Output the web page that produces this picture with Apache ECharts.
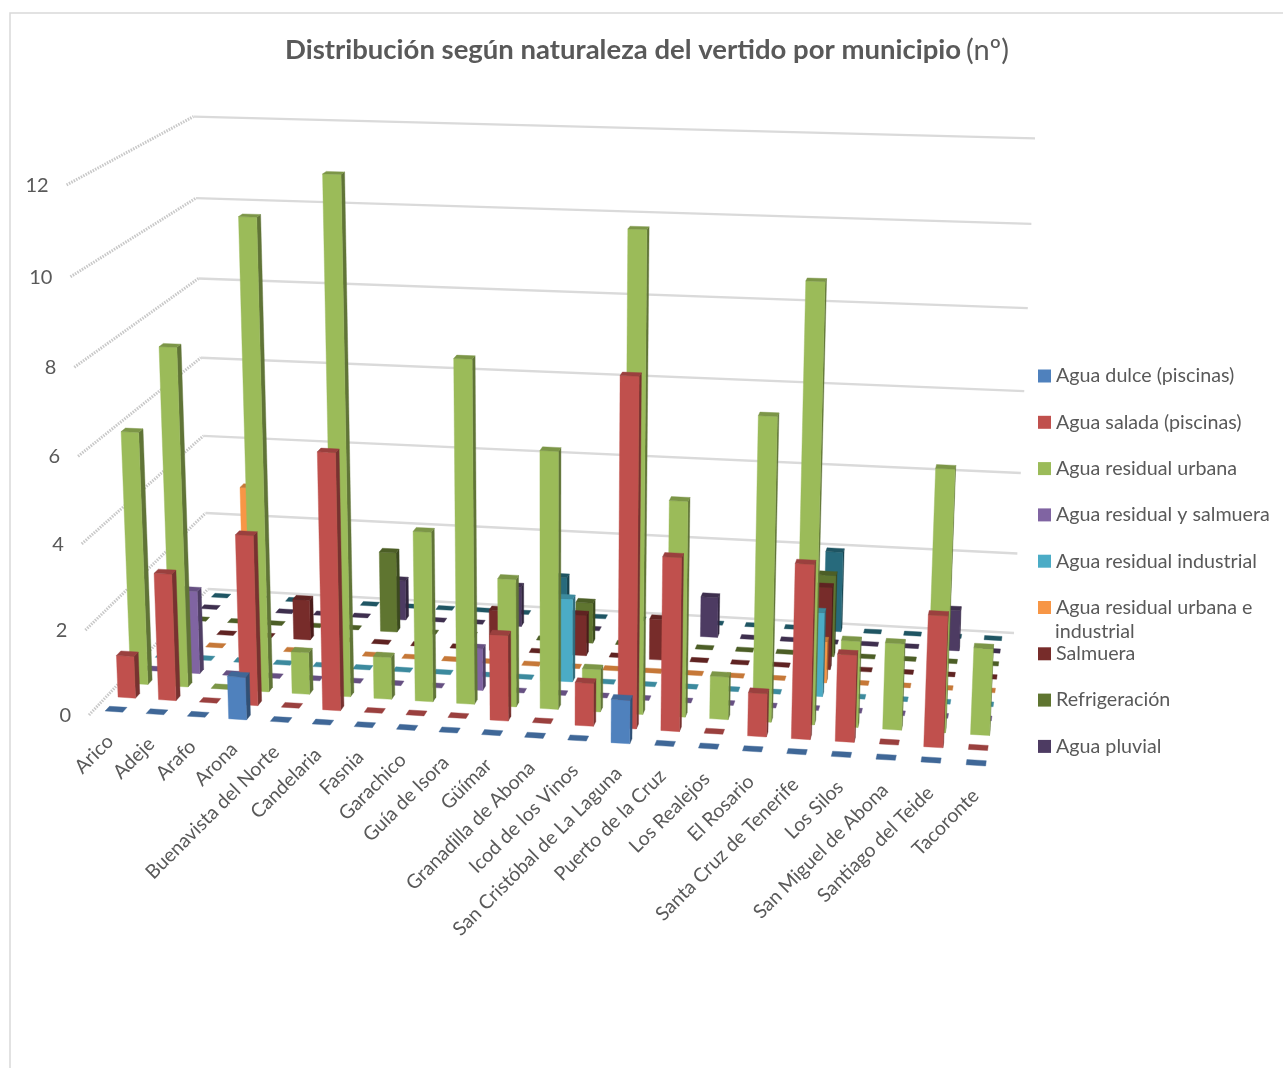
<!DOCTYPE html>
<html><head><meta charset="utf-8">
<style>html,body{margin:0;padding:0;background:#fff}#c{width:1283px;height:1068px}</style>
<script src="https://cdn.jsdelivr.net/npm/echarts@6/dist/echarts.min.js"></script>
</head><body><div id="c"></div>
<script>
const categories=['Arico','Adeje','Arafo','Arona','Buenavista del Norte','Candelaria','Fasnia','Garachico','Guía de Isora','Güímar','Granadilla de Abona','Icod de los Vinos','San Cristóbal de La Laguna','Puerto de la Cruz','Los Realejos','El Rosario','Santa Cruz de Tenerife','Los Silos','San Miguel de Abona','Santiago del Teide','Tacoronte'];
const yTicks=[0,2,4,6,8,10,12];
const aguaDulce     =[0,0,0,1,0,0,0,0,0,0,0,0,1,0,0,0,0,0,0,0,0];
const aguaSalada    =[1,3,0,4,0,6,0,0,0,2,0,1,8,4,0,1,4,2,0,3,0];
const residualUrbana=[6,8,0,11,1,12,1,4,8,3,6,1,11,5,1,7,10,2,2,6,2];
const residualSalm  =[0,2,0,0,0,0,0,0,1,0,0,0,0,0,0,0,0,0,0,0,0];
const industrial    =[0,0,0,0,0,0,0,0,0,0,2,0,0,0,0,0,2,0,0,0,0];
const urbanaInd     =[0,0,4,0,0,0,0,0,0,0,0,0,0,0,0,0,1,0,0,0,0];
const salmuera      =[0,0,0,1,0,0,0,0,1,0,1,0,1,0,0,0,2,0,0,0,0];
const refrigeracion =[0,0,0,0,0,2,0,0,0,0,1,0,0,0,0,0,2,0,0,0,0];
const pluvial       =[0,0,0,0,0,1,0,0,1,0,0,0,0,1,0,0,0,0,0,1,0];
const sinLeyenda    =[0,0,0,0,0,0,0,0,0,1,0,0,0,0,0,0,2,0,0,0,0];
const seriesNames=['Agua dulce (piscinas)','Agua salada (piscinas)','Agua residual urbana','Agua residual y salmuera','Agua residual industrial','Agua residual urbana e industrial','Salmuera','Refrigeración','Agua pluvial','Serie 10'];
const seriesValues=[aguaDulce,aguaSalada,residualUrbana,residualSalm,industrial,urbanaInd,salmuera,refrigeracion,pluvial,sinLeyenda];
const colors=['#4F81BD','#C0504D','#9BBB59','#8064A2','#4BACC6','#F79646','#772C2A','#5F7530','#4D3B62','#276A7C'];

// Camera of the 3D box: screen position of the floor and wall corners
const FL=[89,715],FR=[998,772],BR=[1014,633],BL=[208,589];
const topRefs=[[0,1,193,115],[1,1,1035,140],[0,0,67,185]];
const cam=(function(){
  const [x0,y0]=FL,[x1,y1]=FR,[x2,y2]=BR,[x3,y3]=BL;
  const dx1=x1-x2,dx2=x3-x2,sx=x0-x1+x2-x3,dy1=y1-y2,dy2=y3-y2,sy=y0-y1+y2-y3;
  const den=dx1*dy2-dx2*dy1;
  const g=(sx*dy2-dx2*sy)/den,h=(dx1*sy-sx*dy1)/den;
  const a=x1-x0+g*x1,b=x3-x0+h*x3,c=x0,d=y1-y0+g*y1,e=y3-y0+h*y3,f=y0;
  const n=topRefs.length;let mX=0,mY=0,mbx=0,mby=0;
  const rows=topRefs.map(([u,v,X,Y])=>{const w=g*u+h*v+1;
    const bx=X*w-(a*u+b*v+c),by=Y*w-(d*u+e*v+f);mX+=X/n;mY+=Y/n;mbx+=bx/n;mby+=by/n;return {X,Y,bx,by};});
  let num=0,dn=0;rows.forEach(r=>{num+=(r.X-mX)*(r.bx-mbx)+(r.Y-mY)*(r.by-mby);dn+=(r.X-mX)**2+(r.Y-mY)**2;});
  const cw=-num/dn,cx=mbx+mX*cw,cy=mby+mY*cw;
  return (u,v,t)=>{const w=g*u+h*v+1+cw*t;return [(a*u+b*v+c+cx*t)/w,(d*u+e*v+f+cy*t)/w];};
})();
const ROWS=10;
function unit(params,api,cat,val){
  const p=api.coord([cat,val]),s=params.coordSys;
  return [(p[0]-s.x)/s.width,(s.y+s.height-p[1])/s.height];
}
function shade(hex,k){
  const n=parseInt(hex.slice(1),16);
  return 'rgb('+[n>>16&255,n>>8&255,n&255].map(c=>Math.round(c*k)).join(',')+')';
}
function area(p){let a=0;p.forEach((q,i)=>{const r=p[(i+1)%p.length];a+=q[0]*r[1]-r[0]*q[1];});return a;}
function barItem(row){
  return function(params,api){
    const cat=api.value(0),val=api.value(1);
    const [uc,t]=unit(params,api,cat,val);
    const hu=0.215/categories.length,hd=0.17/ROWS,dc=(row+0.5)/ROWS;
    const u0=uc-hu,u1=uc+hu,d0=dc-hd,d1=dc+hd;
    const col=colors[row],poly=(pts,fill)=>({type:'polygon',shape:{points:pts},style:{fill:fill,stroke:fill,lineWidth:0.4}});
    const tFL=cam(u0,d0,t),tFR=cam(u1,d0,t),tBR=cam(u1,d1,t),tBL=cam(u0,d1,t);
    const children=[];
    if(val>0){
      const bFL=cam(u0,d0,0),bFR=cam(u1,d0,0),bBR=cam(u1,d1,0),bBL=cam(u0,d1,0);
      const front=[bFL,bFR,tFR,tFL],sgn=Math.sign(area(front));
      const right=[bFR,bBR,tBR,tFR],left=[bBL,bFL,tFL,tBL];
      if(Math.sign(area(right))===sgn)children.push(poly(right,shade(col,0.62)));
      if(Math.sign(area(left))===sgn)children.push(poly(left,shade(col,0.62)));
      children.push(poly(front,col));
    }
    children.push(poly([tFL,tFR,tBR,tBL],shade(col,0.8)));
    return {type:'group',children};
  };
}
const series=seriesNames.map((name,row)=>({
  name,type:'custom',coordinateSystem:'cartesian2d',z:20-row,silent:true,
  itemStyle:{color:colors[row]},
  encode:{x:0,y:1},
  data:seriesValues[row].map((v,i)=>[i,v]),
  renderItem:barItem(row)
}));
// wall grid lines and value labels
series.push({
  type:'custom',coordinateSystem:'cartesian2d',z:1,silent:true,encode:{x:0,y:1},
  data:yTicks.map(v=>[0,v]),
  renderItem(params,api){
    const val=api.value(1),[,t]=unit(params,api,0,val);
    const a=cam(0,0,t),b=cam(0,1,t),c=cam(1,1,t);
    return {type:'group',children:[
      {type:'line',shape:{x1:a[0],y1:a[1],x2:b[0],y2:b[1]},style:{stroke:'#c8c8c8',lineWidth:3,lineDash:[1.5,1.2]}},
      {type:'line',shape:{x1:b[0],y1:b[1],x2:c[0],y2:c[1]},style:{stroke:'#dadada',lineWidth:2.4}},
      {type:'text',x:a[0]-18,y:a[1]+0.5,style:{text:String(val),align:'right',verticalAlign:'middle',fontFamily:'Lato',fontSize:20,fill:'#595959'}}
    ]};
  }
});
// category labels
series.push({
  type:'custom',coordinateSystem:'cartesian2d',z:30,silent:true,encode:{x:0,y:1},
  data:categories.map((c,i)=>[i,0]),
  renderItem(params,api){
    const i=api.value(0),[u,t]=unit(params,api,i,0),p=cam(u,0,t);
    return {type:'text',x:p[0]+0.5,y:p[1]+22,rotation:Math.PI/4,
      style:{text:categories[i],align:'right',verticalAlign:'middle',fontFamily:'Lato',fontSize:19.5,fill:'#595959'}};
  }
});
const chart=echarts.init(document.getElementById('c'),null,{renderer:'canvas'});
chart.setOption({
  animation:false,
  backgroundColor:'#fff',
  title:{text:'{b|Distribución según naturaleza del vertido por municipio} {n|(nº)}',left:285,top:36,padding:0,
    textStyle:{rich:{b:{fontFamily:'Lato',fontWeight:'bold',fontSize:27.5,color:'#595959'},n:{fontFamily:'Lato',fontWeight:'normal',fontSize:29,color:'#595959'}}}},
  grid:{left:100,right:100,top:100,bottom:100},
  xAxis:{type:'category',data:categories,show:false},
  yAxis:{type:'value',min:0,max:12,interval:2,show:false},
  legend:{orient:'vertical',left:1038,top:366,padding:0,itemWidth:13,itemHeight:13,itemGap:26.3,
    data:seriesNames.slice(0,9).map(n=>({name:n,icon:'rect'})),
    formatter:n=>n==='Agua residual urbana e industrial'?'Agua residual urbana e':n,
    textStyle:{fontFamily:'Lato',fontSize:19.7,color:'#595959'},selectedMode:false},
  graphic:[
    {type:'polyline',silent:true,shape:{points:[[10,1068],[10,13],[1283,13]]},style:{stroke:'#d9d9d9',lineWidth:1.5,fill:null}},
    {type:'text',left:1055,top:622,silent:true,style:{text:'industrial',fontFamily:'Lato',fontSize:19.7,fill:'#595959'}}
  ],
  series
});
</script></body></html>
